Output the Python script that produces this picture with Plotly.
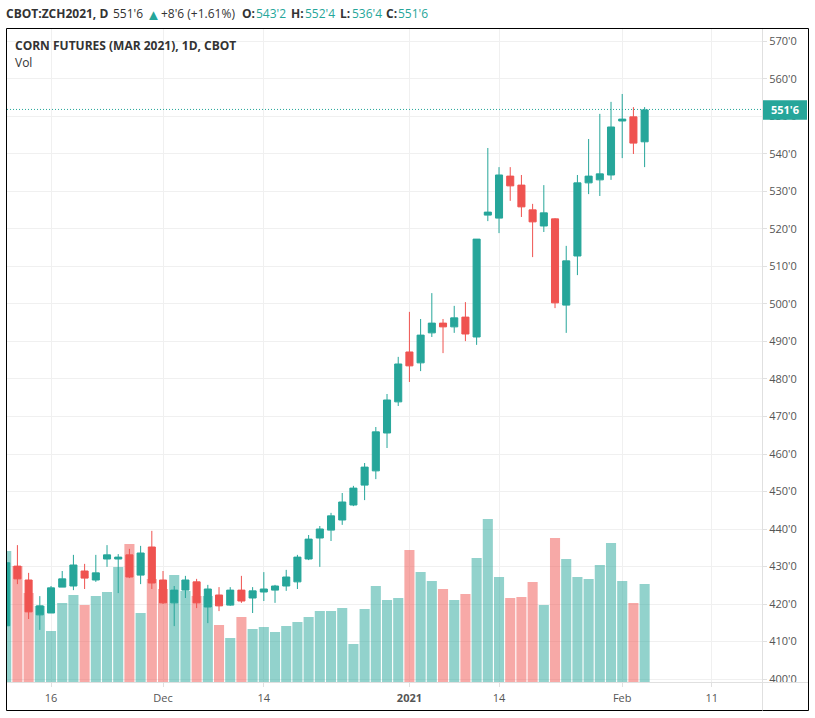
import plotly.graph_objects as go

# trading day index, 0 = Nov 16 2020
days = list(range(-4, 54))

opens = [414.2, 430.1, 426.4, 417.1, 417.6, 424.5, 424.8, 428.8, 426.4, 432.0,
         432.0, 433.1, 427.7, 435.2, 426.4, 420.3, 423.7, 425.9, 419.2, 422.4,
         419.7, 423.7, 421.6, 423.2, 423.7, 424.8, 425.9, 432.0, 437.6, 439.7,
         442.4, 446.4, 451.7, 455.5, 465.6, 473.9, 487.2, 484.3, 492.3, 494.9,
         493.9, 496.5, 491.2, 523.7, 522.9, 534.1, 531.7, 525.1, 520.8, 522.7,
         499.7, 512.8, 532.3, 533.1, 534.4, 548.8, 549.9, 543.25]
highs = [431.2, 435.7, 428.3, 422.1, 424.8, 428.8, 433.1, 430.7, 433.1, 435.7,
         433.3, 434.7, 435.5, 439.5, 428.8, 424.8, 427.5, 426.7, 425.1, 424.5,
         424.5, 427.5, 424.5, 428.5, 425.1, 429.1, 433.1, 438.4, 440.8, 444.3,
         449.6, 451.5, 457.6, 467.2, 476.0, 485.9, 497.9, 496.0, 502.9, 496.0,
         499.5, 500.5, 517.3, 541.6, 536.5, 536.5, 534.4, 526.7, 531.7, 522.9,
         515.5, 534.4, 544.0, 550.7, 553.9, 556.0, 552.5, 552.5]
lows = [414.0, 425.3, 416.0, 413.1, 417.6, 424.5, 423.7, 424.0, 425.9, 429.9,
        422.9, 426.9, 425.3, 424.0, 420.0, 414.1, 421.6, 418.9, 414.9, 418.1,
        419.5, 420.3, 417.6, 420.8, 420.3, 423.5, 424.0, 431.7, 429.9, 436.8,
        441.1, 446.1, 447.7, 453.3, 461.6, 472.8, 479.2, 482.1, 491.2, 486.9,
        492.3, 490.1, 489.1, 522.1, 518.9, 527.5, 523.2, 512.5, 519.2, 498.9,
        492.3, 507.7, 529.3, 528.8, 533.1, 538.9, 540.0, 536.5]
closes = [431.0, 426.7, 417.9, 419.5, 424.3, 426.7, 430.4, 426.9, 428.3, 433.1,
          432.5, 427.2, 433.6, 425.6, 420.3, 423.7, 426.4, 420.3, 424.0, 419.5,
          423.7, 420.8, 423.5, 424.0, 424.8, 427.2, 432.5, 437.3, 440.0, 443.5,
          447.2, 450.9, 456.5, 465.9, 474.4, 484.0, 483.5, 491.7, 494.9, 493.9,
          496.3, 492.0, 517.3, 524.5, 534.4, 531.5, 525.9, 521.9, 524.3, 500.3,
          511.5, 532.3, 534.1, 534.7, 547.2, 549.3, 542.9, 551.75]
# volume in thousands of contracts (estimated)
volumes = [262, 232, 178, 152, 102, 158, 174, 154, 172, 180,
           230, 276, 138, 206, 186, 214, 182, 172, 172, 114,
           88, 130, 106, 110, 100, 112, 120, 130, 142, 142,
           148, 76, 146, 192, 164, 168, 264, 220, 202, 186,
           164, 176, 248, 326, 210, 168, 170, 200, 154, 288,
           246, 210, 206, 234, 278, 202, 158, 196]

price_ticks = list(range(400, 580, 10))
price_labels = [f"{p}'0" for p in price_ticks]
day_ticks = [0, 10, 19, 32, 40, 51, 59]
day_labels = ["16", "Dec", "14", "<b>2021</b>", "14", "Feb", "11"]

last_close = closes[-1]
last_label = "551'6"

GREEN = "#26a69a"
RED = "#ef5350"
GRID = "#f0f0f0"
AXIS = "#e0e0e0"
TEXT = "#555555"
DARK = "#333333"
FONT = "Open Sans"

W, H = 815, 718
LEFT, RIGHT, TOP, BOTTOM = 7, 762, 29, 682


def px(x):
    return (x - LEFT) / (RIGHT - LEFT)


def py(y):
    return (BOTTOM - y) / (BOTTOM - TOP)


vol_colors = [GREEN if c >= o else RED for o, c in zip(opens, closes)]

fig = go.Figure()
fig.add_trace(go.Bar(
    x=days, y=volumes, yaxis="y", marker=dict(color=vol_colors, opacity=0.5, line_width=0),
    hoverinfo="skip", showlegend=False,
))
fig.add_trace(go.Candlestick(
    x=days, open=opens, high=highs, low=lows, close=closes, yaxis="y2",
    increasing=dict(line=dict(color=GREEN, width=1), fillcolor=GREEN),
    decreasing=dict(line=dict(color=RED, width=1), fillcolor=RED),
    showlegend=False,
))


def note(text, x, y, size=12, color=DARK):
    # annotations sit about 2px right of x because of their padding
    fig.add_annotation(text=text, x=px(x - 2), y=py(y), xref="paper", yref="paper", showarrow=False,
                       xanchor="left", yanchor="middle", font=dict(family=FONT, size=size, color=color))


note("<b>CBOT:ZCH2021, D</b>", 6, 14)
note("551'6", 113, 14)
note("▲", 146, 14, size=15, color=GREEN)
note("+8'6 (+1.61%)", 161, 14)
note("<b>O:</b>", 242, 14)
note("543'2", 256, 14, color=GREEN)
note("<b>H:</b>", 291, 14)
note("552'4", 305, 14, color=GREEN)
note("<b>L:</b>", 340, 14)
note("536'4", 352, 14, color=GREEN)
note("<b>C:</b>", 386, 14)
note("551'6", 398, 14, color=GREEN)
note("<b>CORN FUTURES (MAR 2021), 1D, CBOT</b>", 15, 45)
note("Vol", 15, 62)

# last price line and tag (nudged half a pixel so the dots stay sharp)
fig.add_shape(type="line", xref="paper", yref="y2", x0=0, x1=1, y0=last_close + 0.13, y1=last_close + 0.13,
              line=dict(color=GREEN, width=1, dash="1px,2px"))
fig.add_shape(type="rect", xref="paper", yref="y2", x0=1, x1=px(807), y0=last_close - 2.6, y1=last_close + 2.6,
              fillcolor=GREEN, line_width=0)
fig.add_annotation(text=f"<b>{last_label}</b>", x=px(769), y=last_close, xref="paper", yref="y2", showarrow=False,
                   xanchor="left", yanchor="middle", font=dict(family=FONT, size=11, color="white"))

# frame around the chart, and axis lines running out to it
fig.add_shape(type="rect", xref="paper", yref="paper", x0=px(6.5), x1=px(808.5), y0=py(710.5), y1=py(28.5),
              line=dict(color="black", width=1))
fig.add_shape(type="line", xref="paper", yref="paper", x0=px(762.5), x1=px(762.5), y0=py(710.5), y1=py(29),
              line=dict(color=AXIS, width=1))
fig.add_shape(type="line", xref="paper", yref="paper", x0=px(762.5), x1=px(808), y0=py(682.5), y1=py(682.5),
              line=dict(color=AXIS, width=1))

fig.update_layout(
    width=W, height=H,
    margin=dict(l=LEFT, r=W - RIGHT, t=TOP, b=H - BOTTOM),
    paper_bgcolor="white", plot_bgcolor="white",
    font=dict(family=FONT, size=11, color=TEXT),
    bargap=0.1, boxgap=0.1, hovermode=False, showlegend=False,
    xaxis=dict(
        range=[-3.93, 63.48], rangeslider_visible=False, tickmode="array", tickvals=day_ticks, ticktext=day_labels,
        showgrid=True, gridcolor=GRID, gridwidth=1, zeroline=False,
        showline=True, linecolor=AXIS, ticks="outside", ticklen=4, tickcolor=AXIS, ticklabelstandoff=2,
    ),
    yaxis=dict(range=[0, 1306], visible=False, fixedrange=True),
    yaxis2=dict(
        range=[399.2, 573.33], overlaying="y", side="right", tickmode="array", tickvals=price_ticks,
        ticktext=price_labels, showgrid=True, gridcolor=GRID, gridwidth=1, zeroline=False,
        showline=True, linecolor=AXIS, ticks="outside", ticklen=4, tickcolor=AXIS,
    ),
)

fig.write_html("out.html", config={"displayModeBar": False},
               post_script="document.body.style.margin='0';")
